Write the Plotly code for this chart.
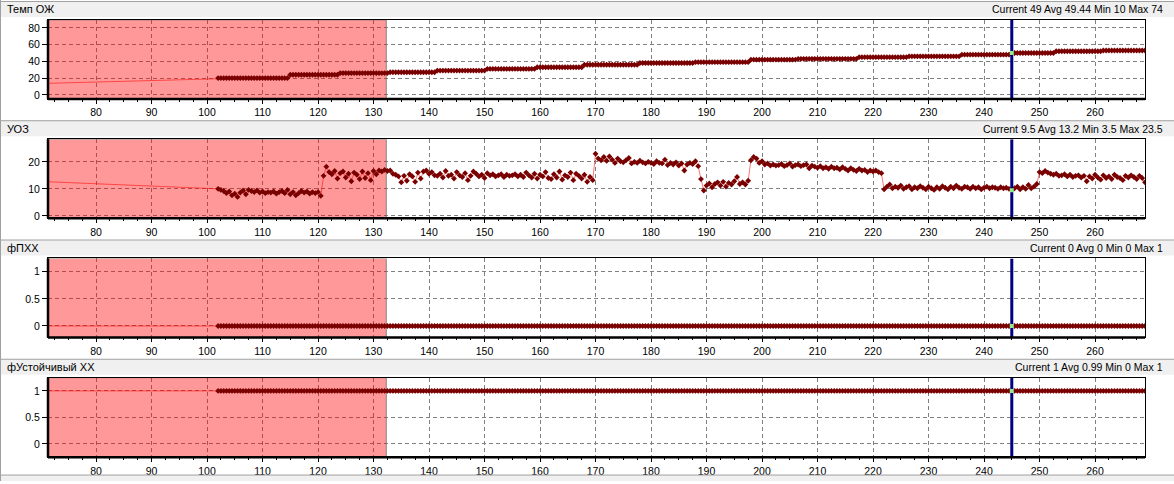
import numpy as np
import plotly.graph_objects as go

# время отсчётов, с
t_start = 102.0
t_end = 269.0
t_step = 0.5
t = np.round(np.arange(t_start, t_end + t_step / 2, t_step), 1)

x_view = [71.35, 269.0]
red_zone_end = 132.3
cursor_t = 245.0

titles = ['Темп ОЖ', 'УОЗ', 'фПХХ', 'фУстойчивый ХХ']
stats = ['Current 49 Avg 49.44 Min 10 Max 74',
         'Current 9.5 Avg 13.2 Min 3.5 Max 23.5',
         'Current 0 Avg 0 Min 0 Max 1',
         'Current 1 Avg 0.99 Min 0 Max 1']

# Темп ОЖ - ступеньками: момент начала ступеньки и значение
temp_step_t = [102, 115, 124, 133, 141.5, 150.5, 159.5, 168, 178, 188, 198, 206.5,
               217.5, 226.5, 236, 245, 253, 261.5]
temp_step_val = [20, 24, 26, 27, 29, 31, 33, 36, 38, 39, 42, 43, 45, 46, 48, 50, 52, 53]
temp_before = (50.0, 10.0)   # точка левее окна

# УОЗ, через 0.5 с начиная с 102
uoz_values = [
    10.0, 9.6, 9.2, 8.4, 9.0, 7.6, 8.2, 7.0, 8.6, 9.4,
    8.0, 9.6, 9.2, 8.8, 9.4, 8.6, 9.0, 8.4, 8.8, 8.6,
    9.0, 8.2, 8.8, 9.2, 8.4, 9.6, 8.0, 8.8, 7.6, 8.4,
    9.2, 8.6, 9.0, 8.2, 8.8, 8.4, 8.8, 7.4, 14.8, 18.2,
    16.2, 15.4, 16.6, 13.8, 15.8, 16.4, 14.2, 15.6, 12.8, 16.0,
    15.2, 13.6, 16.4, 14.0, 15.8, 13.2, 16.6, 15.4, 16.8, 16.4,
    17.0, 16.6, 16.8, 15.6, 15.2, 14.6, 12.4, 14.8, 13.0, 15.4,
    14.6, 12.6, 16.0, 13.8, 16.4, 16.8, 15.6, 16.2, 15.0, 14.8,
    15.6, 14.2, 16.6, 14.8, 15.2, 13.8, 16.2, 15.0, 14.4, 15.8,
    13.2, 14.8, 16.4, 15.6, 14.6, 15.2, 14.0, 15.8, 15.0, 15.4,
    14.6, 15.0, 15.4, 14.4, 15.2, 14.8, 15.0, 15.4, 14.6, 15.2,
    14.4, 16.0, 15.0, 14.2, 15.6, 13.8, 15.2, 14.6, 16.2, 14.0,
    13.6, 15.4, 14.2, 16.4, 13.4, 15.0, 14.4, 16.0, 13.2, 15.6,
    14.8, 13.8, 15.2, 12.6, 14.4, 13.2, 23.0, 21.2, 20.6, 21.8,
    20.4, 22.0, 20.8, 19.6, 21.2, 20.2, 19.8, 20.6, 21.4, 19.4,
    20.0, 19.6, 20.4, 19.8, 19.4, 20.0, 19.6, 19.2, 20.2, 19.6,
    19.4, 20.8, 18.8, 19.6, 19.0, 19.8, 18.6, 19.4, 16.8, 19.0,
    19.6, 19.2, 20.2, 18.4, 13.6, 9.4, 11.2, 12.0, 10.6, 11.8,
    12.4, 11.2, 12.6, 10.8, 12.2, 11.6, 12.8, 14.4, 11.8, 12.4,
    11.6, 13.0, 20.6, 21.8, 21.2, 19.6, 20.2, 19.0, 19.4, 18.6,
    19.0, 18.6, 18.8, 19.2, 18.4, 18.8, 19.4, 18.2, 18.8, 19.0,
    18.4, 18.8, 19.0, 17.6, 18.6, 18.2, 17.8, 18.4, 17.6, 18.0,
    17.4, 18.2, 17.6, 17.8, 17.2, 18.0, 17.4, 16.8, 17.6, 17.0,
    16.6, 17.4, 16.8, 17.0, 16.2, 16.8, 16.4, 16.8, 16.2, 15.8,
    9.8, 10.8, 11.6, 10.2, 10.8, 10.4, 11.2, 10.0, 10.6, 11.0,
    9.8, 10.6, 10.2, 11.0, 10.4, 9.8, 10.8, 10.2, 9.6, 10.6,
    10.0, 11.0, 10.4, 9.8, 10.8, 10.2, 11.2, 10.4, 10.0, 10.8,
    10.6, 10.0, 10.8, 10.2, 10.6, 9.8, 10.4, 10.8, 10.2, 10.6,
    10.4, 10.0, 10.6, 10.2, 10.4, 10.0, 9.5, 10.2, 10.8, 9.8,
    10.6, 10.0, 11.4, 10.2, 10.8, 11.8, 16.2, 15.8, 16.6, 16.0,
    15.6, 15.2, 15.6, 14.8, 15.0, 15.4, 14.6, 15.2, 14.4, 14.8,
    15.0, 14.2, 14.8, 12.8, 14.6, 13.8, 15.2, 14.2, 13.4, 15.0,
    14.0, 14.6, 13.6, 15.2, 14.4, 14.0, 13.2, 14.8, 14.2, 15.0,
    14.4, 13.6, 14.8, 14.0, 12.4,
]
uoz_before = (40.0, 15.3)

# флаги
pxx_step_t = [102]
pxx_step_val = [0]
pxx_before = (40.0, 0)

ust_step_t = [102]
ust_step_val = [1]
ust_before = (40.0, 1)

y_ranges = [[-4.8, 89.5], [-0.85, 28.4], [-0.21, 1.245], [-0.25, 1.25]]
y_ticks = [[0, 20, 40, 60, 80], [0, 10, 20], [0, 0.5, 1], [0, 0.5, 1]]


def steps(starts, vals):
    idx = np.searchsorted(np.array(starts, dtype=float), t, side='right') - 1
    return np.array(vals, dtype=float)[idx]


series = [
    (temp_before, steps(temp_step_t, temp_step_val)),
    (uoz_before, np.array(uoz_values)),
    (pxx_before, steps(pxx_step_t, pxx_step_val)),
    (ust_before, steps(ust_step_t, ust_step_val)),
]

W, H = 1174, 484
frame_px = [(20, 99.5), (140, 219.5), (260, 339.5), (380, 460)]
left_px, right_px = 48, 1145

fnt = 'Liberation Sans, Arial, sans-serif'
fig = go.Figure()
shapes = []
annotations = []

for i, (before, vals) in enumerate(series):
    sx = '' if i == 0 else str(i + 1)
    xr, yr = 'x' + sx, 'y' + sx
    y0, y1 = y_ranges[i]

    # красная зона (трасса, чтобы лечь поверх сетки)
    fig.add_trace(go.Scatter(
        x=[x_view[0], red_zone_end, red_zone_end, x_view[0], x_view[0]],
        y=[y0, y0, y1, y1, y0], mode='lines', fill='toself', xaxis=xr, yaxis=yr,
        fillcolor='rgba(255,0,0,0.4)', line=dict(color='rgba(110,110,110,0.8)', width=1),
        hoverinfo='skip'))

    xs = np.concatenate([[before[0]], t])
    ys = np.concatenate([[before[1]], vals])
    fig.add_trace(go.Scatter(
        x=xs, y=ys, mode='lines+markers', xaxis=xr, yaxis=yr,
        line=dict(color='rgba(255,0,0,0.55)', width=1),
        marker=dict(symbol='diamond', size=4.5, color='#7a0000'),
        hoverinfo='x+y'))

    # курсор
    fig.add_trace(go.Scatter(
        x=[cursor_t, cursor_t], y=[y0, y1], mode='lines', xaxis=xr, yaxis=yr,
        line=dict(color='#000080', width=3), hoverinfo='skip'))
    k = int(np.argmin(np.abs(t - cursor_t)))
    fig.add_trace(go.Scatter(
        x=[t[k]], y=[vals[k]], mode='markers', xaxis=xr, yaxis=yr,
        marker=dict(symbol='square', size=4, color='#90ee90'), hoverinfo='skip'))

    top, bot = frame_px[i]
    fig.layout['xaxis' + sx] = dict(
        domain=[left_px / W, right_px / W], anchor=yr, range=x_view,
        dtick=10, tick0=0, ticks='outside', ticklen=4, tickcolor='black',
        minor=dict(dtick=2.5, ticks='outside', ticklen=2, tickcolor='black', showgrid=False),
        showgrid=True, gridcolor='#808080', griddash='4px,3px', gridwidth=1,
        showline=True, linecolor='black', linewidth=1, mirror=True,
        zeroline=False, tickfont=dict(family=fnt, size=10.5, color='black'))
    fig.layout['yaxis' + sx] = dict(
        domain=[1 - bot / H, 1 - top / H], anchor=xr, range=y_ranges[i],
        tickvals=y_ticks[i], ticks='outside', ticklen=5, tickcolor='black',
        showgrid=True, gridcolor='#808080', griddash='4px,3px', gridwidth=1,
        showline=True, linecolor='black', linewidth=1, mirror=True,
        zeroline=False, tickfont=dict(family=fnt, size=10.5, color='black'))

    # толстая рамка слева и снизу
    shapes.append(dict(type='line', xref='paper', yref='paper',
                       x0=left_px / W, x1=right_px / W, y0=1 - bot / H, y1=1 - bot / H,
                       line=dict(color='black', width=2.5)))
    shapes.append(dict(type='line', xref='paper', yref='paper',
                       x0=left_px / W, x1=left_px / W, y0=1 - bot / H, y1=1 - top / H,
                       line=dict(color='black', width=2.5)))

    # шапка панели
    h0, h1 = 1.5 + 120 * i, 17 + 120 * i
    shapes.append(dict(type='rect', xref='paper', yref='paper', x0=0, x1=1,
                       y0=1 - h1 / H, y1=1 - h0 / H, fillcolor='#f0f0f0', line=dict(width=0), layer='below'))
    shapes.append(dict(type='line', xref='paper', yref='paper', x0=0, x1=1,
                       y0=1 - h0 / H, y1=1 - h0 / H, line=dict(color='#a0a0a0', width=1)))
    annotations.append(dict(xref='paper', yref='paper', x=5 / W, y=1 - (9.5 + 120 * i) / H,
                            xanchor='left', yanchor='middle', showarrow=False, text=titles[i],
                            font=dict(family=fnt, size=11, color='black')))
    annotations.append(dict(xref='paper', yref='paper', x=1165 / W, y=1 - (9.5 + 120 * i) / H,
                            xanchor='right', yanchor='middle', showarrow=False, text=stats[i],
                            font=dict(family=fnt, size=10.5, color='black')))

# нижняя полоска
shapes.append(dict(type='rect', xref='paper', yref='paper', x0=0, x1=1, y0=0, y1=1 - 478 / H,
                   fillcolor='#f0f0f0', line=dict(width=0), layer='below'))
shapes.append(dict(type='line', xref='paper', yref='paper', x0=0, x1=1, y0=1 - 478 / H, y1=1 - 478 / H,
                   line=dict(color='#a0a0a0', width=1)))
shapes.append(dict(type='line', xref='paper', yref='paper', x0=0.5 / W, x1=0.5 / W, y0=0, y1=1,
                   line=dict(color='#a0a0a0', width=1)))

fig.update_layout(width=W, height=H, margin=dict(l=0, r=0, t=0, b=0),
                  paper_bgcolor='white', plot_bgcolor='white', showlegend=False,
                  shapes=shapes, annotations=annotations)

# убрать отступы страницы, чтобы график встал в окно 1174x484
fig.write_html('out.html', config={'displayModeBar': False},
               post_script="document.body.style.margin='0px';")
